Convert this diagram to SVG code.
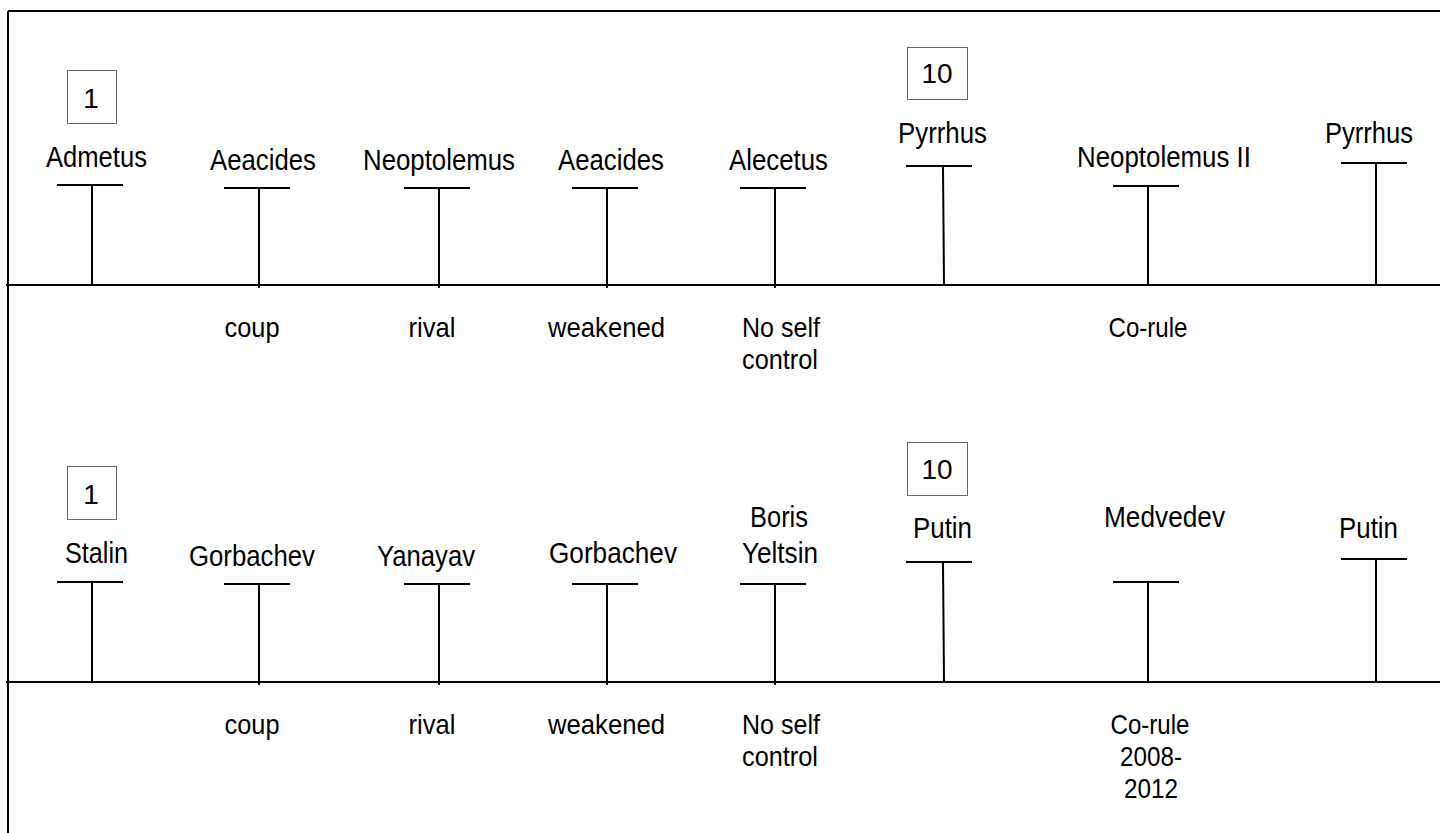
<svg xmlns="http://www.w3.org/2000/svg" width="1440" height="833" viewBox="0 0 1440 833">
<style>
text{font-family:"Liberation Sans",Arial,sans-serif;fill:#000;text-anchor:middle}
.n{font-size:30px}
.l{font-size:28px}
.b{font-size:28px}
.ln{stroke:#000;stroke-width:2;fill:none}
.bx{stroke:#666;stroke-width:1;fill:#fff}
</style>
<rect width="1440" height="833" fill="#fff"/>
<g id="frame">
<path class="ln" d="M8 11H1440M8 11V833"/>
</g>
<g id="connectors">
<path class="ln" d="M6 285H1440M6 682H1440"/>
<path class="ln" d="M57 185H123M92 185V285 M224 188H290M259 188V288 M404 188H470M439 188V288 M572 188H638M607 188V288 M740 188H806M775 188V288 M906 166H972M943 166L944 285 M1113 186H1179M1148 186V285 M1341 163H1407M1376 163V285"/>
<path class="ln" d="M57 582H123M92 582V682 M224 584H290M259 584V685 M404 584H470M439 584V685 M572 584H638M607 584V685 M740 584H806M775 584V685 M906 562H972M943 562L944 682 M1113 582H1179M1148 582V682 M1341 559H1407M1376 559V682"/>
</g>
<g id="top-marker-1"><rect class="bx" x="67.5" y="70.5" width="49" height="53"/><text class="b" x="91" y="108">1</text></g>
<g id="top-marker-10"><rect class="bx" x="907.5" y="47.5" width="60" height="52"/><text class="b" x="937" y="83">10</text></g>
<g id="n-admetus"><text class="n" x="96.5" y="167" textLength="101" lengthAdjust="spacingAndGlyphs">Admetus</text></g>
<g id="n-aeacides1"><text class="n" x="263" y="170" textLength="106" lengthAdjust="spacingAndGlyphs">Aeacides</text></g>
<g id="n-neoptolemus"><text class="n" x="439" y="170" textLength="152" lengthAdjust="spacingAndGlyphs">Neoptolemus</text></g>
<g id="n-aeacides2"><text class="n" x="611" y="170" textLength="106" lengthAdjust="spacingAndGlyphs">Aeacides</text></g>
<g id="n-alecetus"><text class="n" x="778.5" y="170" textLength="99" lengthAdjust="spacingAndGlyphs">Alecetus</text></g>
<g id="n-pyrrhus1"><text class="n" x="942.5" y="143" textLength="89" lengthAdjust="spacingAndGlyphs">Pyrrhus</text></g>
<g id="n-neoptolemus2"><text class="n" x="1164" y="167" textLength="174" lengthAdjust="spacingAndGlyphs">Neoptolemus II</text></g>
<g id="n-pyrrhus2"><text class="n" x="1369" y="143" textLength="88" lengthAdjust="spacingAndGlyphs">Pyrrhus</text></g>
<g id="top-labels">
<text class="l" x="252" y="337" textLength="55" lengthAdjust="spacingAndGlyphs">coup</text>
<text class="l" x="432" y="337" textLength="47" lengthAdjust="spacingAndGlyphs">rival</text>
<text class="l" x="606.5" y="337" textLength="117" lengthAdjust="spacingAndGlyphs">weakened</text>
<text class="l" x="781" y="337" textLength="78" lengthAdjust="spacingAndGlyphs">No self</text>
<text class="l" x="780" y="369" textLength="76" lengthAdjust="spacingAndGlyphs">control</text>
<text class="l" x="1148" y="337" textLength="79" lengthAdjust="spacingAndGlyphs">Co-rule</text>
</g>
<g id="bot-marker-1"><rect class="bx" x="67.5" y="466.5" width="49" height="53"/><text class="b" x="91" y="504">1</text></g>
<g id="bot-marker-10"><rect class="bx" x="907.5" y="442.5" width="60" height="53"/><text class="b" x="937" y="479">10</text></g>
<g id="n-stalin"><text class="n" x="96.5" y="563" textLength="63" lengthAdjust="spacingAndGlyphs">Stalin</text></g>
<g id="n-gorbachev1"><text class="n" x="252" y="566" textLength="126" lengthAdjust="spacingAndGlyphs">Gorbachev</text></g>
<g id="n-yanayav"><text class="n" x="426" y="566" textLength="98" lengthAdjust="spacingAndGlyphs">Yanayav</text></g>
<g id="n-gorbachev2"><text class="n" x="613" y="563" textLength="128" lengthAdjust="spacingAndGlyphs">Gorbachev</text></g>
<g id="n-yeltsin"><text class="n" x="779" y="527" textLength="58" lengthAdjust="spacingAndGlyphs">Boris</text><text class="n" x="780" y="563" textLength="76" lengthAdjust="spacingAndGlyphs">Yeltsin</text></g>
<g id="n-putin1"><text class="n" x="942.5" y="538" textLength="59" lengthAdjust="spacingAndGlyphs">Putin</text></g>
<g id="n-medvedev"><text class="n" x="1164.5" y="527" textLength="121" lengthAdjust="spacingAndGlyphs">Medvedev</text></g>
<g id="n-putin2"><text class="n" x="1368.5" y="538" textLength="59" lengthAdjust="spacingAndGlyphs">Putin</text></g>
<g id="bottom-labels">
<text class="l" x="252" y="734" textLength="55" lengthAdjust="spacingAndGlyphs">coup</text>
<text class="l" x="432" y="734" textLength="47" lengthAdjust="spacingAndGlyphs">rival</text>
<text class="l" x="606.5" y="734" textLength="117" lengthAdjust="spacingAndGlyphs">weakened</text>
<text class="l" x="781" y="734" textLength="78" lengthAdjust="spacingAndGlyphs">No self</text>
<text class="l" x="780" y="766" textLength="76" lengthAdjust="spacingAndGlyphs">control</text>
<text class="l" x="1150" y="734" textLength="79" lengthAdjust="spacingAndGlyphs">Co-rule</text>
<text class="l" x="1151" y="766" textLength="62" lengthAdjust="spacingAndGlyphs">2008-</text>
<text class="l" x="1151" y="798" textLength="54" lengthAdjust="spacingAndGlyphs">2012</text>
</g>
</svg>
